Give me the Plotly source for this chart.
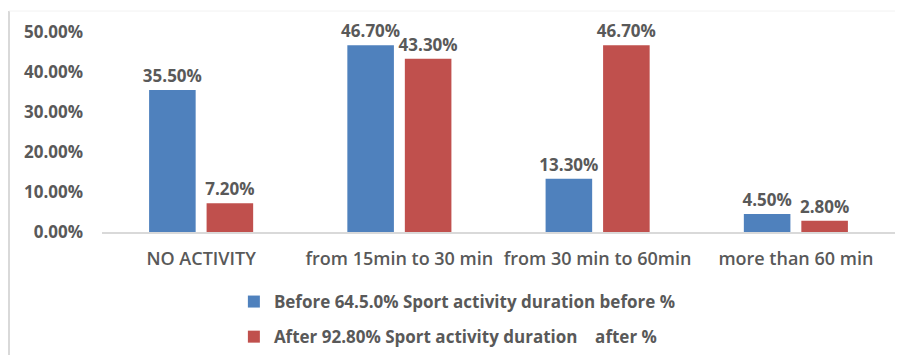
import plotly.graph_objects as go

categories = ["NO ACTIVITY", "from 15min to 30 min", "from 30 min to 60min", "more than 60 min"]
before_vals = [35.5, 46.7, 13.3, 4.5]
after_vals = [7.2, 43.3, 46.7, 2.8]
before_name = "Before 64.5.0% Sport activity duration before %"
after_name = "After 92.80% Sport activity duration \u00a0\u00a0\u00a0after %"
tick_vals = [0, 10, 20, 30, 40, 50]
tick_text = ["0.00%", "10.00%", "20.00%", "30.00%", "40.00%", "50.00%"]

TXT = "#595959"
FONT = "Open Sans"

fig = go.Figure()
fig.add_trace(go.Bar(
    x=categories, y=before_vals, name=before_name, legendgroup="a",
    marker=dict(color="#4F81BD", line=dict(width=0)),
    text=[f"{v:.2f}%" for v in before_vals], textposition="outside",
    constraintext="none",
    textfont=dict(family=FONT, size=17, color=TXT, weight="bold"),
    cliponaxis=False,
))
fig.add_trace(go.Bar(
    x=categories, y=after_vals, name=after_name, legendgroup="b",
    marker=dict(color="#C0504D", line=dict(width=0)),
    text=[f"{v:.2f}%" for v in after_vals], textposition="outside",
    constraintext="none",
    textfont=dict(family=FONT, size=17, color=TXT, weight="bold"),
    cliponaxis=False,
))

fig.update_layout(
    width=903, height=355,
    margin=dict(l=102, r=8, t=32, b=123, autoexpand=False),
    paper_bgcolor="white", plot_bgcolor="white",
    barmode="group", bargap=0.42, bargroupgap=0.19,
    showlegend=True,
    legend=dict(
        orientation="v", xref="container", yref="container",
        x=0.259, y=0.2, xanchor="left", yanchor="top",
        font=dict(family=FONT, size=17, color=TXT, weight="bold"),
        tracegroupgap=10, traceorder="grouped", itemwidth=30,
        bgcolor="rgba(0,0,0,0)",
    ),
    font=dict(family=FONT, color=TXT),
)
fig.update_xaxes(
    showline=True, linecolor="#D9D9D9", linewidth=1.5,
    ticks="", showgrid=False, tickangle=0, automargin=False,
    tickfont=dict(family=FONT, size=18, color=TXT, weight=600),
    ticklabelstandoff=10,
)
fig.update_yaxes(
    range=[0, 50], tickvals=tick_vals, ticktext=tick_text, automargin=False,
    showgrid=False, zeroline=False, showline=False, ticks="",
    tickfont=dict(family=FONT, size=17, color=TXT, weight="bold"),
    ticklabelstandoff=18,
)
# chart frame (left and top edges)
fig.add_shape(type="line", xref="x domain", yref="y domain",
              x0=-93/793, x1=-93/793, y0=-2, y1=1.105, line=dict(color="#D9D9D9", width=2))
fig.add_shape(type="line", xref="x domain", yref="y domain",
              x0=-93/793, x1=1.0, y0=1.105, y1=1.105, line=dict(color="#F2F2F2", width=1))

fig.write_html("out.html")
